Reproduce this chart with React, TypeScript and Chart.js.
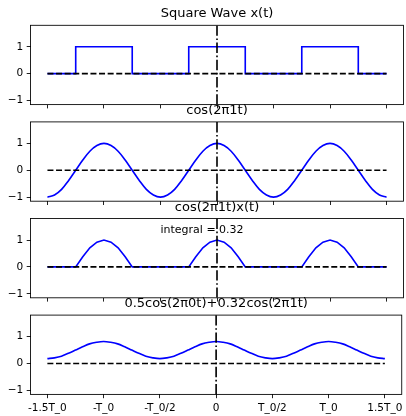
import React, { useEffect, useRef } from "react";
import { Chart, registerables } from "chart.js";

Chart.register(...registerables);

// ---------- data ----------
const xTicks = [-1.5, -1, -0.5, 0, 0.5, 1, 1.5];
const xTickLabels = ["-1.5T_0", "-T_0", "-T_0/2", "0", "T_0/2", "T_0", "1.5T_0"];
const yTicks = [-1, 0, 1];
const yTickLabels = ["\u22121", "0", "1"];
const titles = [
  "Square Wave x(t)",
  "cos(2\u03c01t)",
  "cos(2\u03c01t)x(t)",
  "0.5cos(2\u03c00t)+0.32cos(2\u03c01t)",
];
const integralLabel = "integral = 0.32";
const integralPos = [-0.5, 1.27];

const t = [
  -1.5, -1.4375, -1.375, -1.3125, -1.25, -1.1875, -1.125, -1.0625,
  -1, -0.9375, -0.875, -0.8125, -0.75, -0.6875, -0.625, -0.5625,
  -0.5, -0.4375, -0.375, -0.3125, -0.25, -0.1875, -0.125, -0.0625,
  0, 0.0625, 0.125, 0.1875, 0.25, 0.3125, 0.375, 0.4375,
  0.5, 0.5625, 0.625, 0.6875, 0.75, 0.8125, 0.875, 0.9375,
  1, 1.0625, 1.125, 1.1875, 1.25, 1.3125, 1.375, 1.4375,
  1.5,
];

const squareT = [-1.5, -1.25, -1.25, -0.75, -0.75, -0.25, -0.25, 0.25, 0.25, 0.75, 0.75, 1.25, 1.25, 1.5];
const squareX = [0, 0, 1, 1, 0, 0, 1, 1, 0, 0, 1, 1, 0, 0];

const cosValues = [
  -1, -0.92, -0.71, -0.38, 0, 0.38, 0.71, 0.92, 1, 0.92, 0.71, 0.38, 0, -0.38, -0.71, -0.92,
  -1, -0.92, -0.71, -0.38, 0, 0.38, 0.71, 0.92, 1, 0.92, 0.71, 0.38, 0, -0.38, -0.71, -0.92,
  -1, -0.92, -0.71, -0.38, 0, 0.38, 0.71, 0.92, 1, 0.92, 0.71, 0.38, 0, -0.38, -0.71, -0.92,
  -1,
];

const productValues = [
  0, 0, 0, 0, 0, 0.38, 0.71, 0.92, 1, 0.92, 0.71, 0.38, 0, 0, 0, 0,
  0, 0, 0, 0, 0, 0.38, 0.71, 0.92, 1, 0.92, 0.71, 0.38, 0, 0, 0, 0,
  0, 0, 0, 0, 0, 0.38, 0.71, 0.92, 1, 0.92, 0.71, 0.38, 0, 0, 0, 0,
  0,
];

const approxValues = [
  0.18, 0.21, 0.27, 0.38, 0.5, 0.62, 0.73, 0.79, 0.82, 0.79, 0.73, 0.62, 0.5, 0.38, 0.27, 0.21,
  0.18, 0.21, 0.27, 0.38, 0.5, 0.62, 0.73, 0.79, 0.82, 0.79, 0.73, 0.62, 0.5, 0.38, 0.27, 0.21,
  0.18, 0.21, 0.27, 0.38, 0.5, 0.62, 0.73, 0.79, 0.82, 0.79, 0.73, 0.62, 0.5, 0.38, 0.27, 0.21,
  0.18,
];

const zeroLineT = [-1.5, 1.5];
const zeroLineY = [0, 0];
const markerT = 0;

const X_MIN = -1.65;
const X_MAX = 1.65;
const Y_MIN = -1.15;
const Y_MAX = 1.8;

// ---------- layout ----------
const W = 406;
const H = 416;
const AX_LEFT = 30.5;
const AX_RIGHT = 403.5;
const AX_TOPS = [25.3, 121.9, 218.5, 315.1];
const AX_H = 79.3;
const FONT = "DejaVu Sans";

type PanelProps = {
  index: number;
  xs: number[];
  ys: number[];
  smooth: boolean;
};

const toPoints = (xs: number[], ys: number[]) => xs.map((x, i) => ({ x, y: ys[i] }));

function Panel({ index, xs, ys, smooth }: PanelProps) {
  const ref = useRef<HTMLCanvasElement | null>(null);

  useEffect(() => {
    if (!ref.current) return;
    const top = AX_TOPS[index];
    const bottom = top + AX_H;
    const showXLabels = index === 3;
    const title = titles[index];
    const withIntegral = index === 2;

    const decor = {
      id: "panelDecor",
      afterDraw(chart: any) {
        const { ctx, chartArea: a } = chart;
        ctx.save();
        ctx.strokeStyle = "#000";
        ctx.lineWidth = 0.87;
        ctx.strokeRect(a.left, a.top, a.right - a.left, a.bottom - a.top);
        ctx.fillStyle = "#000";
        ctx.font = `13px "${FONT}"`;
        ctx.textAlign = "center";
        ctx.textBaseline = "alphabetic";
        ctx.fillText(title, (a.left + a.right) / 2, a.top - 8);
        if (withIntegral) {
          const px = chart.scales.x.getPixelForValue(integralPos[0]);
          const py = chart.scales.y.getPixelForValue(integralPos[1]);
          ctx.font = `11px "${FONT}"`;
          ctx.textAlign = "left";
          ctx.fillText(integralLabel, px, py);
        }
        ctx.restore();
      },
    };

    const chart = new Chart(ref.current, {
      type: "line",
      data: {
        datasets: [
          {
            data: toPoints([markerT, markerT], [Y_MIN, Y_MAX]),
            borderColor: "#000",
            borderWidth: 1.63,
            borderDash: [10.4, 2.6, 1.6, 2.6],
            pointRadius: 0,
            fill: false,
          },
          {
            data: toPoints(zeroLineT, zeroLineY),
            borderColor: "#000",
            borderWidth: 1.63,
            borderDash: [6, 2.6],
            pointRadius: 0,
            fill: false,
          },
          {
            data: toPoints(xs, ys),
            borderColor: "#0000ff",
            borderWidth: 1.63,
            pointRadius: 0,
            fill: false,
            cubicInterpolationMode: "default",
            tension: smooth ? 0.35 : 0,
          } as any,
        ],
      },
      options: {
        responsive: false,
        animation: false,
        devicePixelRatio: 1,
        events: [],
        layout: { padding: { top: top, left: 0, right: W - AX_RIGHT, bottom: 0 } },
        plugins: { legend: { display: false }, tooltip: { enabled: false }, title: { display: false } },
        scales: {
          x: {
            type: "linear",
            min: X_MIN,
            max: X_MAX,
            afterBuildTicks: (s: any) => {
              s.ticks = xTicks.map((v) => ({ value: v }));
            },
            afterFit: (s: any) => {
              s.height = H - bottom;
            },
            grid: {
              display: true,
              drawOnChartArea: false,
              drawTicks: true,
              tickLength: 3.8,
              color: "#000",
              lineWidth: 0.87,
            },
            border: { display: false },
            ticks: {
              display: showXLabels,
              autoSkip: false,
              maxRotation: 0,
              minRotation: 0,
              padding: 3.5,
              color: "#000",
              font: { family: FONT, size: 10.5 },
              callback: (v: any) => {
                const i = xTicks.indexOf(Number(v));
                return i >= 0 ? xTickLabels[i] : "";
              },
            },
          },
          y: {
            type: "linear",
            min: Y_MIN,
            max: Y_MAX,
            afterBuildTicks: (s: any) => {
              s.ticks = yTicks.map((v) => ({ value: v }));
            },
            afterFit: (s: any) => {
              s.width = AX_LEFT;
            },
            grid: {
              display: true,
              drawOnChartArea: false,
              drawTicks: true,
              tickLength: 3.8,
              color: "#000",
              lineWidth: 0.87,
            },
            border: { display: false },
            ticks: {
              padding: 3.5,
              color: "#000",
              font: { family: FONT, size: 10.5 },
              callback: (v: any) => {
                const i = yTicks.indexOf(Number(v));
                return i >= 0 ? yTickLabels[i] : "";
              },
            },
          },
        },
      } as any,
      plugins: [decor],
    });
    return () => chart.destroy();
  }, [index, xs, ys, smooth]);

  return (
    <canvas
      ref={ref}
      width={W}
      height={H}
      style={{ position: "absolute", left: 0, top: 0, width: W, height: H }}
    />
  );
}

export default function App() {
  return (
    <div
      style={{
        position: "fixed",
        left: 0,
        top: 0,
        width: W,
        height: H,
        background: "#fff",
        overflow: "hidden",
      }}
    >
      <Panel index={0} xs={squareT} ys={squareX} smooth={false} />
      <Panel index={1} xs={t} ys={cosValues} smooth={true} />
      <Panel index={2} xs={t} ys={productValues} smooth={false} />
      <Panel index={3} xs={t} ys={approxValues} smooth={true} />
    </div>
  );
}
